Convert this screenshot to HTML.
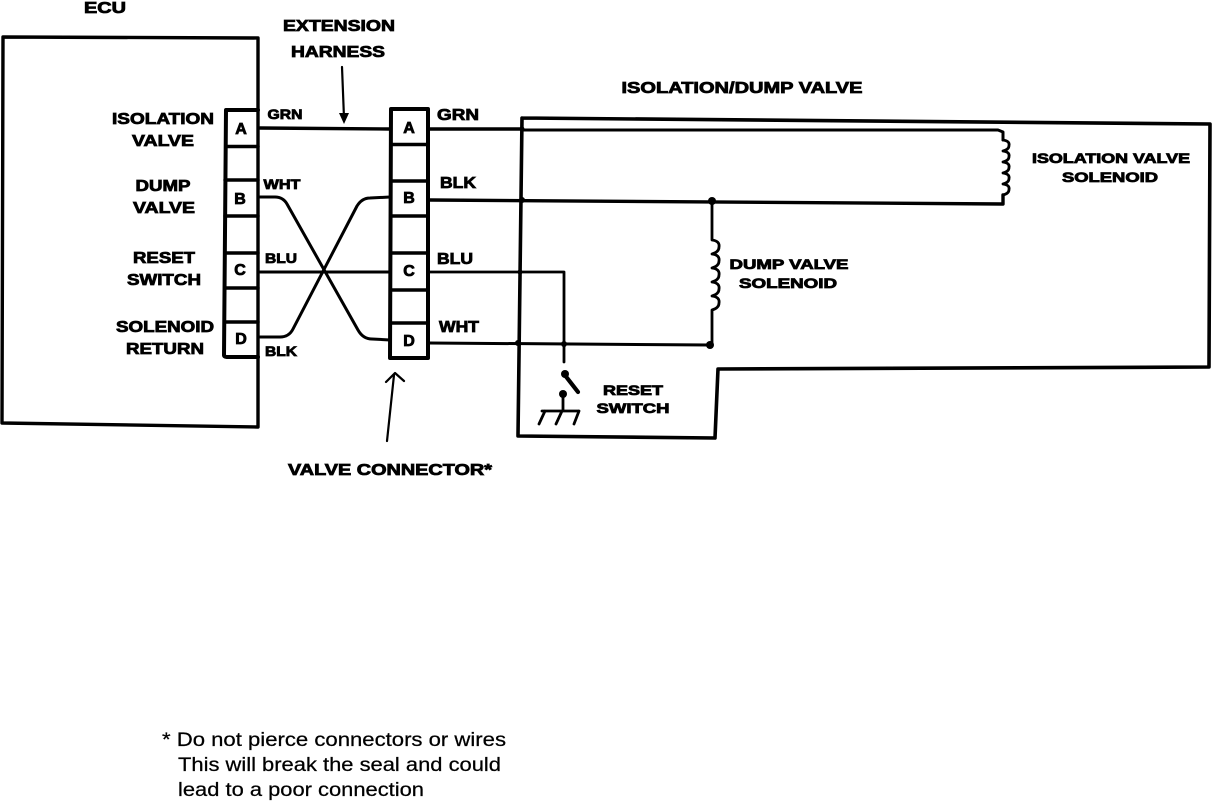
<!DOCTYPE html>
<html>
<head>
<meta charset="utf-8">
<style>
html,body{margin:0;padding:0;background:#fff;width:1216px;height:802px;overflow:hidden}
svg{display:block}
text{font-family:"Liberation Sans",sans-serif;font-weight:bold;fill:#000;stroke:#000;stroke-width:.8px;text-anchor:middle}
.n{font-weight:normal;stroke-width:.25px;text-anchor:start;font-size:19.5px}
</style>
</head>
<body>
<svg width="1216" height="802" viewBox="0 0 1216 802" xmlns="http://www.w3.org/2000/svg">
<g fill="none" stroke="#000" stroke-linejoin="round" stroke-linecap="round">
<!-- ECU -->
<path d="M258 38 L3 37 L2 423 L258 427 L258 38" stroke-width="3.4"/>
<!-- left connector -->
<path d="M258 110 H226 L224 355 Q224 357 228 357 H258" stroke-width="4"/>
<path d="M226 146.500H258M225 180H258M225 216H258M225 253H258M225 288H258M225 322H258" stroke-width="3.4"/>
<!-- right connector -->
<path d="M391 109 H428 V358 H390 Z" stroke-width="4"/>
<path d="M391 144.500H428M391 181H428M391 216H428M391 253H428M391 290H428M391 323H428" stroke-width="3.4"/>
<!-- wires left -->
<path d="M260 128 L390 129" stroke-width="3.4"/>
<path d="M260 197 H275 Q283 197 287 204 L358 330 Q363 339 372 339 L390 340" stroke-width="3"/>
<path d="M260 337 H280 Q289 337 293 329 L357 206 Q362 198 370 198 L390 197" stroke-width="3"/>
<path d="M260 272 H390" stroke-width="3"/>
<!-- wires right -->
<path d="M430 129 H522" stroke-width="3.4"/>
<path d="M522 130 H998 L1003 132 V140" stroke-width="3"/>
<path d="M430 200 L1003 204 V195" stroke-width="3.4"/>
<path d="M430 272 H564 V362" stroke-width="2.8"/>
<path d="M429 343 L710 345" stroke-width="3"/>
<!-- outer valve box -->
<path d="M522 118 L1210 124 L1209 367 L718 369 L715 438 L518 436 L522 118" stroke-width="3.6"/>
<!-- isolation coil -->
<path d="M1003 140 q7 1 6 5.500 q0 4 -6 5.500 q7 1 6 5.500 q0 4 -6 5.500 q7 1 6 5.500 q0 4 -6 5.500 q7 1 6 5.500 q0 4 -6 5.500 q7 1 6 5.500 q0 4 -6 5.500" stroke-width="2.8"/>
<!-- dump coil -->
<path d="M712 202 V240 q8 1 7 7 q0 5 -7 7 q8 1 7 7 q0 5 -7 7 q8 1 7 7 q0 5 -7 7 q8 1 7 7 q0 5 -7 7 q8 1 7 7 q0 5 -7 7 V345" stroke-width="2.8"/>
<!-- reset switch -->
<path d="M564 374 L578 392" stroke-width="4.200"/>
<path d="M563 394 V410 M542 411 H579 M545 411 L539 424 M562 411 L556 424 M579 411 L574 424" stroke-width="2.8"/>
<!-- leader arrows -->
<path d="M342 67 L344 118" stroke-width="2.200"/>
<path d="M394 375 L387 441" stroke-width="2.200"/>
<path d="M386 382 L395 373 L404 381" stroke-width="2.200"/>
</g>
<g fill="#000">
<path d="M339 113 L349 113 L344 124 Z"/>
<circle cx="522" cy="200" r="3"/>
<circle cx="712" cy="201" r="4"/>
<circle cx="518" cy="343" r="3"/>
<circle cx="564" cy="344" r="3"/>
<circle cx="710" cy="345" r="4"/>
<circle cx="565" cy="374" r="4"/>
<circle cx="563" cy="394" r="4"/>
<circle cx="522" cy="129" r="2.5"/>
<circle cx="520" cy="272" r="2.5"/>
</g>
<g font-size="16">
<text x="105" y="13" textLength="42" lengthAdjust="spacingAndGlyphs">ECU</text>
<text x="339" y="31" textLength="112" lengthAdjust="spacingAndGlyphs">EXTENSION</text>
<text x="338" y="57" textLength="94" lengthAdjust="spacingAndGlyphs">HARNESS</text>
<text x="742" y="93" textLength="241" lengthAdjust="spacingAndGlyphs">ISOLATION/DUMP VALVE</text>
<text x="163" y="124" textLength="102" lengthAdjust="spacingAndGlyphs">ISOLATION</text>
<text x="163" y="146" textLength="62" lengthAdjust="spacingAndGlyphs">VALVE</text>
<text x="163" y="191" textLength="55" lengthAdjust="spacingAndGlyphs">DUMP</text>
<text x="164" y="213" textLength="62" lengthAdjust="spacingAndGlyphs">VALVE</text>
<text x="164" y="263" textLength="62" lengthAdjust="spacingAndGlyphs">RESET</text>
<text x="164" y="285" textLength="74" lengthAdjust="spacingAndGlyphs">SWITCH</text>
<text x="165" y="332" textLength="98" lengthAdjust="spacingAndGlyphs">SOLENOID</text>
<text x="165" y="354" textLength="78" lengthAdjust="spacingAndGlyphs">RETURN</text>
<text x="241" y="134">A</text>
<text x="240" y="204">B</text>
<text x="240" y="275">C</text>
<text x="241" y="344">D</text>
<text x="409" y="133">A</text>
<text x="409" y="203">B</text>
<text x="409" y="276">C</text>
<text x="409" y="346">D</text>
<text x="458" y="120" textLength="42" lengthAdjust="spacingAndGlyphs">GRN</text>
<text x="458" y="188" textLength="36" lengthAdjust="spacingAndGlyphs">BLK</text>
<text x="455" y="264" textLength="36" lengthAdjust="spacingAndGlyphs">BLU</text>
<text x="459" y="332" textLength="40" lengthAdjust="spacingAndGlyphs">WHT</text>
<text x="390" y="475" textLength="204" lengthAdjust="spacingAndGlyphs">VALVE CONNECTOR*</text>
</g>
<g font-size="14">
<text x="285" y="119" textLength="35" lengthAdjust="spacingAndGlyphs">GRN</text>
<text x="282" y="189" textLength="37" lengthAdjust="spacingAndGlyphs">WHT</text>
<text x="281" y="263" textLength="32" lengthAdjust="spacingAndGlyphs">BLU</text>
<text x="281" y="356" textLength="32" lengthAdjust="spacingAndGlyphs">BLK</text>
<text x="1111" y="163" textLength="158" lengthAdjust="spacingAndGlyphs">ISOLATION VALVE</text>
<text x="1110" y="182" textLength="96" lengthAdjust="spacingAndGlyphs">SOLENOID</text>
<text x="789" y="269" textLength="119" lengthAdjust="spacingAndGlyphs">DUMP VALVE</text>
<text x="788" y="288" textLength="98" lengthAdjust="spacingAndGlyphs">SOLENOID</text>
<text x="633" y="395" textLength="60" lengthAdjust="spacingAndGlyphs">RESET</text>
<text x="633" y="413" textLength="73" lengthAdjust="spacingAndGlyphs">SWITCH</text>
</g>
<text class="n" x="162" y="746" textLength="344" lengthAdjust="spacingAndGlyphs">*  Do not pierce connectors or wires</text>
<text class="n" x="178" y="771" textLength="323" lengthAdjust="spacingAndGlyphs">This will break the seal and could</text>
<text class="n" x="178" y="796" textLength="246" lengthAdjust="spacingAndGlyphs">lead to a poor connection</text>
</svg>
</body>
</html>
